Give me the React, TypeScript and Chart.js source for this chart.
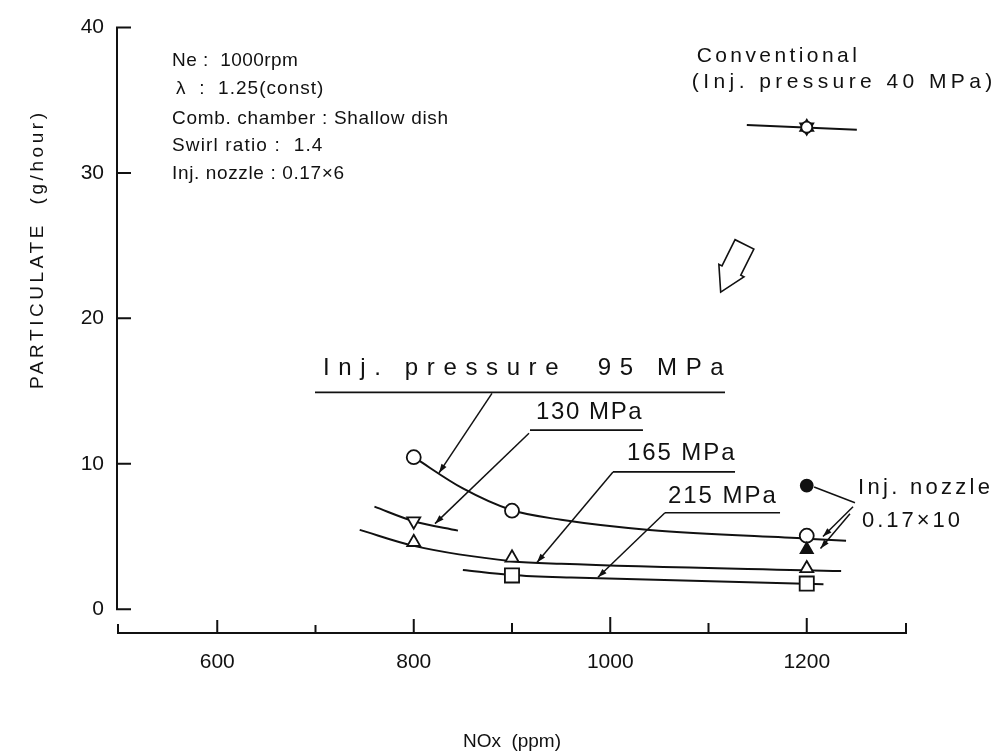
import React, { useEffect, useRef } from 'react';
import { Chart, registerables } from 'chart.js';

Chart.register(...registerables);

// ---------------- data ----------------
const xTickLabels = [600, 800, 1000, 1200];
const xTickMarks = [600, 700, 800, 900, 1000, 1100, 1200];
const yTickValues = [0, 10, 20, 30, 40];

// Inj. pressure 95 MPa (open circles)
const p95NOx = [800, 900, 1200];
const p95PM = [10.45, 6.77, 5.05];
const c95NOx = [800, 850, 900, 950, 1040, 1200, 1240];
const c95PM = [10.45, 8.3, 6.8, 6.15, 5.45, 4.85, 4.7];

// 130 MPa (inverted triangles)
const p130NOx = [800];
const p130PM = [6.05];
const c130NOx = [760, 800, 845];
const c130PM = [7.05, 6.05, 5.4];

// 165 MPa (triangles)
const p165NOx = [800, 900, 1200];
const p165PM = [4.6, 3.53, 2.8];
const c165NOx = [745, 800, 900, 950, 1235];
const c165PM = [5.45, 4.35, 3.3, 3.12, 2.62];

// 215 MPa (squares)
const p215NOx = [900, 1200];
const p215PM = [2.32, 1.76];
const c215NOx = [850, 900, 960, 1217];
const c215PM = [2.7, 2.35, 2.17, 1.72];

// Inj. nozzle 0.17x10 (filled symbols)
const nzCircleNOx = [1200];
const nzCirclePM = [8.5];
const nzTriNOx = [1200];
const nzTriPM = [4.1];

// Conventional (Inj. pressure 40 MPa)
const convNOx = [1200];
const convPM = [33.15];
const convLineNOx = [1139, 1251];
const convLinePM = [33.3, 32.97];

// ---------------- styling / layout ----------------
const INK = '#111';
const FONT = '"Liberation Sans", Arial, Helvetica, sans-serif';
const Y_MIN = -1.71;

const pts = (xs: number[], ys: number[]) => xs.map((x, i) => ({ x, y: ys[i] }));

const lineDs = (xs: number[], ys: number[], curved = true) => ({
  data: pts(xs, ys),
  showLine: true,
  borderColor: INK,
  borderWidth: 2,
  pointRadius: 0,
  pointHoverRadius: 0,
  fill: false,
  cubicInterpolationMode: curved ? 'monotone' : 'default',
  tension: 0,
  order: 2,
});

const markDs = (
  xs: number[],
  ys: number[],
  style: string,
  radius: number,
  fillCol: string,
  rotation = 0,
  order = 0,
) => ({
  data: pts(xs, ys),
  showLine: false,
  pointStyle: style,
  pointRadius: radius,
  pointHoverRadius: radius,
  pointBackgroundColor: fillCol,
  pointBorderColor: INK,
  pointBorderWidth: 1.8,
  pointRotation: rotation,
  order,
});

// annotation layout (in data units so it follows the scales)
const notes = [
  { t: 'Ne :  1000rpm', x0: 554, x1: 682, y: 37.75, s: 19 },
  { t: 'λ  :  1.25(const)', x0: 558, x1: 708, y: 35.76, s: 19 },
  { t: 'Comb. chamber : Shallow dish', x0: 554, x1: 835, y: 33.71, s: 19 },
  { t: 'Swirl ratio :  1.4', x0: 554, x1: 707, y: 31.86, s: 19 },
  { t: 'Inj. nozzle : 0.17×6', x0: 554, x1: 729, y: 29.95, s: 19 },
  { t: 'Conventional', x0: 1088, x1: 1251, y: 38.02, s: 21 },
  { t: '(Inj. pressure 40 MPa)', x0: 1083, x1: 1389, y: 36.24, s: 21 },
  { t: 'Inj. pressure  95 MPa', x0: 707.6, x1: 1115.5, y: 16.55, s: 24 },
  { t: '130 MPa', x0: 924.4, x1: 1032, y: 13.54, s: 24 },
  { t: '165 MPa', x0: 1017, x1: 1126.5, y: 10.74, s: 24 },
  { t: '215 MPa', x0: 1058.8, x1: 1168.5, y: 7.79, s: 24 },
  { t: 'Inj. nozzle', x0: 1252.2, x1: 1386.5, y: 8.34, s: 22 },
  { t: '0.17×10', x0: 1256.2, x1: 1356, y: 6.09, s: 22 },
];
const underlines = [
  { x0: 699.5, x1: 1116.8, y: 14.91 },
  { x0: 918.3, x1: 1033.3, y: 12.31 },
  { x0: 1002.8, x1: 1127, y: 9.44 },
  { x0: 1055.7, x1: 1172.8, y: 6.63 },
];
const leaders = [
  { a: [879.6, 14.84], b: [825.7, 9.37], head: true },
  { a: [917.3, 12.1], b: [821.6, 5.88], head: true },
  { a: [1002.8, 9.44], b: [925.4, 3.21], head: true },
  { a: [1055.7, 6.63], b: [987.5, 2.19], head: true },
  { a: [1249.1, 7.32], b: [1207.5, 8.4], head: false },
  { a: [1247.1, 7.04], b: [1216.5, 4.99], head: true },
  { a: [1244, 6.56], b: [1214, 4.17], head: true },
];
const bigArrow = { tail: [1136.6, 25.09], tip: [1112.4, 21.81] };
const xTickLen: Record<number, number> = { 600: 13, 700: 8, 800: 14, 900: 10, 1000: 16, 1100: 10, 1200: 15 };

function fitText(ctx: any, text: string, x0: number, x1: number, yc: number, size: number) {
  ctx.save();
  ctx.font = `${size}px ${FONT}`;
  ctx.letterSpacing = '0px';
  const n = Array.from(text).length;
  const w = ctx.measureText(text).width;
  const sp = n > 1 ? (x1 - x0 - w) / (n - 1) : 0;
  ctx.letterSpacing = `${sp.toFixed(2)}px`;
  ctx.textAlign = 'left';
  ctx.textBaseline = 'middle';
  ctx.fillStyle = INK;
  ctx.fillText(text, x0, yc);
  ctx.restore();
}

function arrowHead(ctx: any, ax: number, ay: number, bx: number, by: number, len = 9, half = 3) {
  const dx = bx - ax, dy = by - ay;
  const L = Math.hypot(dx, dy);
  const ux = dx / L, uy = dy / L;
  const vx = -uy, vy = ux;
  ctx.beginPath();
  ctx.moveTo(bx, by);
  ctx.lineTo(bx - ux * len + vx * half, by - uy * len + vy * half);
  ctx.lineTo(bx - ux * len - vx * half, by - uy * len - vy * half);
  ctx.closePath();
  ctx.fill();
}

const decor = {
  id: 'decor',
  beforeDatasetsDraw(chart: any) {
    const { ctx, chartArea, scales } = chart;
    const X = scales.x, Y = scales.y;
    ctx.save();
    ctx.strokeStyle = INK;
    ctx.lineWidth = 2;
    // y axis
    const ax = X.getPixelForValue(500) - 2;
    ctx.beginPath();
    ctx.moveTo(ax, Y.getPixelForValue(40) - 1);
    ctx.lineTo(ax, Y.getPixelForValue(0) + 1);
    for (const v of yTickValues) {
      const yy = Y.getPixelForValue(v);
      ctx.moveTo(ax, yy);
      ctx.lineTo(ax + 14, yy);
    }
    ctx.stroke();
    // x axis (offset below zero)
    const by = chartArea.bottom - 1;
    const xl = X.getPixelForValue(500) - 1;
    const xr = X.getPixelForValue(1300) + 1;
    ctx.beginPath();
    ctx.moveTo(xl, by - 9);
    ctx.lineTo(xl, by);
    ctx.lineTo(xr, by);
    ctx.lineTo(xr, by - 10);
    for (const v of xTickMarks) {
      const xx = X.getPixelForValue(v);
      ctx.moveTo(xx, by);
      ctx.lineTo(xx, by - (xTickLen[v] || 10));
    }
    ctx.stroke();
    ctx.restore();
  },
  afterDatasetsDraw(chart: any) {
    const { ctx, scales } = chart;
    const X = scales.x, Y = scales.y;
    const px = (v: number) => X.getPixelForValue(v);
    const py = (v: number) => Y.getPixelForValue(v);
    ctx.save();
    ctx.strokeStyle = INK;
    ctx.fillStyle = INK;
    // texts
    for (const n of notes) fitText(ctx, n.t, px(n.x0), px(n.x1), py(n.y), n.s);
    // underlines
    ctx.lineWidth = 1.6;
    ctx.beginPath();
    for (const u of underlines) {
      ctx.moveTo(px(u.x0), py(u.y));
      ctx.lineTo(px(u.x1), py(u.y));
    }
    ctx.stroke();
    // leaders
    ctx.lineWidth = 1.5;
    for (const l of leaders) {
      const ax = px(l.a[0]), ay = py(l.a[1]), bx = px(l.b[0]), by = py(l.b[1]);
      ctx.beginPath();
      ctx.moveTo(ax, ay);
      ctx.lineTo(bx, by);
      ctx.stroke();
      if (l.head) arrowHead(ctx, ax, ay, bx, by);
    }
    // hollow arrow
    const tx = px(bigArrow.tail[0]), ty = py(bigArrow.tail[1]);
    const hx = px(bigArrow.tip[0]), hy = py(bigArrow.tip[1]);
    const L = Math.hypot(hx - tx, hy - ty);
    const ux = (hx - tx) / L, uy = (hy - ty) / L;
    const vx = -uy, vy = ux;
    const sw = 10.5, hw = 14, hl = 24;
    const nx = tx + ux * (L - hl), ny = ty + uy * (L - hl);
    ctx.lineWidth = 1.6;
    ctx.beginPath();
    ctx.moveTo(tx + vx * sw, ty + vy * sw);
    ctx.lineTo(nx + vx * sw, ny + vy * sw);
    ctx.lineTo(nx + vx * hw, ny + vy * hw);
    ctx.lineTo(hx, hy);
    ctx.lineTo(nx - vx * hw, ny - vy * hw);
    ctx.lineTo(nx - vx * sw, ny - vy * sw);
    ctx.lineTo(tx - vx * sw, ty - vy * sw);
    ctx.closePath();
    ctx.fillStyle = '#fff';
    ctx.fill();
    ctx.stroke();
    // axis titles
    ctx.save();
    ctx.translate(38, 251);
    ctx.rotate(-Math.PI / 2);
    fitText(ctx, 'PARTICULATE  (g/hour)', -138, 138, 0, 19);
    ctx.restore();
    fitText(ctx, 'NOx  (ppm)', 463, 561, 742, 19);
    ctx.restore();
  },
};

export default function App() {
  const ref = useRef<HTMLCanvasElement>(null);
  useEffect(() => {
    document.body.style.margin = '0';
    const chart = new Chart(ref.current as HTMLCanvasElement, {
      type: 'line',
      data: {
        datasets: [
          // markers (drawn on top)
          markDs(p95NOx, p95PM, 'circle', 7, '#fff'),
          markDs(p130NOx, p130PM, 'triangle', 7.5, '#fff', 180),
          markDs(p165NOx, p165PM, 'triangle', 7.5, '#fff'),
          markDs(p215NOx, p215PM, 'rect', 10, '#fff'),
          markDs(nzCircleNOx, nzCirclePM, 'circle', 6, INK),
          markDs(nzTriNOx, nzTriPM, 'triangle', 7, INK, 0, -1),
          markDs(convNOx, convPM, 'circle', 5.5, '#fff', 0, -1),
          markDs(convNOx, convPM, 'triangle', 7.5, '#fff', 0, 1),
          markDs(convNOx, convPM, 'triangle', 7.5, '#fff', 180, 1),
          // curves
          lineDs(c95NOx, c95PM),
          lineDs(c130NOx, c130PM),
          lineDs(c165NOx, c165PM),
          lineDs(c215NOx, c215PM),
          lineDs(convLineNOx, convLinePM, false),
        ] as any,
      },
      options: {
        animation: false,
        responsive: false,
        maintainAspectRatio: false,
        devicePixelRatio: 1,
        events: [],
        layout: { padding: { left: 0, right: 97, top: 24, bottom: 0 } },
        plugins: { legend: { display: false }, tooltip: { enabled: false }, title: { display: false } },
        scales: {
          x: {
            type: 'linear',
            min: 500,
            max: 1300,
            afterBuildTicks: (s: any) => {
              s.ticks = xTickLabels.map((v) => ({ value: v }));
            },
            afterFit: (s: any) => {
              s.height = 121;
            },
            grid: { display: false, drawTicks: false },
            border: { display: false },
            ticks: {
              color: INK,
              font: { family: FONT, size: 21 },
              padding: 16,
              maxRotation: 0,
              callback: (v: any) => String(v),
            },
          },
          y: {
            type: 'linear',
            min: Y_MIN,
            max: 40,
            afterBuildTicks: (s: any) => {
              s.ticks = yTickValues.map((v) => ({ value: v }));
            },
            afterFit: (s: any) => {
              s.width = 119;
            },
            grid: { display: false, drawTicks: false },
            border: { display: false },
            ticks: { color: INK, font: { family: FONT, size: 21 }, padding: 15, callback: (v: any) => String(v) },
          },
        },
      } as any,
      plugins: [decor],
    });
    return () => chart.destroy();
  }, []);
  return (
    <div style={{ position: 'absolute', left: 0, top: 0, width: 1002, height: 755, background: '#fff' }}>
      <canvas ref={ref} width={1002} height={755} style={{ display: 'block', width: 1002, height: 755 }} />
    </div>
  );
}
